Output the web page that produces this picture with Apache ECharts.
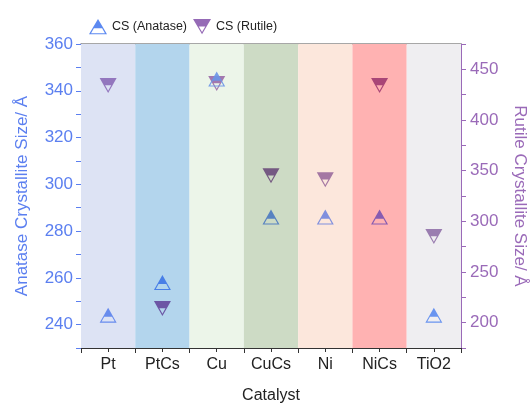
<!DOCTYPE html>
<html>
<head>
<meta charset="utf-8">
<script src="https://cdn.jsdelivr.net/npm/echarts@6/dist/echarts.min.js"></script>
<style>
  html, body { margin: 0; padding: 0; background: #fff; }
  #chart { width: 531px; height: 404px; }
</style>
</head>
<body>
<div id="chart"></div>
<script>
// catalysts and crystallite sizes (Å)
const categories = ['Pt', 'PtCs', 'Cu', 'CuCs', 'Ni', 'NiCs', 'TiO2'];
const anatase = [244, 258, 345, 286, 286, 286, 244];
const rutile = [434, 214, 436, 345, 341, 434, 285];
const leftTicks = [240, 260, 280, 300, 320, 340, 360];
const rightTicks = [200, 250, 300, 350, 400, 450];

// styling
const bandColors = ['#dde3f4', '#b3d5ed', '#ecf5e9', '#cddbc5', '#fce7dc', '#ffb2b2', '#efeef1'];
const anataseColors = ['#5b82ec', '#3d75e6', '#6a95e8', '#4a78c0', '#7285de', '#7a52b0', '#5a8af0'];
const rutileColors = ['#8b6ab8', '#64489c', '#9a6aa8', '#6a4a7a', '#9a6a9c', '#a03a70', '#9070a8'];
const blue = '#5b7ff0';
const purple = '#9a6ab8';
const font = '"Liberation Sans", Arial, sans-serif';

// half filled triangles: solid part + outlined part (hole by reverse winding)
const upTri = 'path://M10,0L15.3,9L4.7,9Z' +
  'M4.7,9L15.3,9L20,17L0,17Z' +
  'M5.45,10.3L2.28,15.7L17.72,15.7L14.55,10.3Z';
const downTri = 'path://M0,0L20,0L15.88,7L4.12,7Z' +
  'M4.12,7L15.88,7L10,17Z' +
  'M6.39,8.3L10,14.44L13.61,8.3Z';

const chart = echarts.init(document.getElementById('chart'));

const option = {
  animation: false,
  textStyle: { fontFamily: font },
  legend: {
    top: 14,
    left: 84,
    itemGap: 6,
    itemWidth: 18,
    itemHeight: 16,
    textStyle: { fontSize: 12.5, color: '#222', fontFamily: font },
    data: [
      { name: 'CS (Anatase)', icon: upTri, itemStyle: { color: '#4a7cf0' } },
      { name: 'CS (Rutile)', icon: downTri, itemStyle: { color: '#8a5aae' } }
    ]
  },
  grid: { left: 81, right: 70, top: 44, bottom: 56, containLabel: false, outerBoundsMode: 'none' },
  xAxis: [
    {
      type: 'category',
      data: categories,
      name: 'Catalyst',
      nameLocation: 'middle',
      nameGap: 40,
      nameTextStyle: { fontSize: 16, color: '#222' },
      axisLine: { lineStyle: { color: '#333', width: 1 } },
      axisTick: { show: true, length: 5, lineStyle: { color: '#333' } },
      axisLabel: { fontSize: 16, color: '#222', margin: 9 }
    },
    {
      type: 'category',
      data: categories,
      position: 'bottom',
      axisLine: { show: false },
      axisTick: { show: true, alignWithLabel: true, length: 4, lineStyle: { color: '#333' } },
      axisLabel: { show: false }
    },
    {
      type: 'category',
      data: categories,
      position: 'top',
      axisLine: { show: true, lineStyle: { color: '#8a8a8a', width: 1.5 } },
      axisTick: { show: false },
      axisLabel: { show: false }
    }
  ],
  yAxis: [
    {
      type: 'value',
      min: 230,
      max: 360,
      interval: 10,
      name: 'Anatase Crystallite Size/ Å',
      nameLocation: 'middle',
      nameGap: 50,
      nameTextStyle: { fontSize: 17, color: blue },
      axisLine: { show: true, lineStyle: { color: blue, width: 1 } },
      axisTick: { show: true, length: 5, lineStyle: { color: blue } },
      axisLabel: {
        fontSize: 17,
        color: blue,
        margin: 8,
        formatter: v => (leftTicks.includes(v) ? String(v) : '')
      },
      splitLine: { show: false }
    },
    {
      type: 'value',
      min: 175,
      max: 475,
      interval: 25,
      position: 'right',
      name: 'Rutile Crystallite Size/ Å',
      nameLocation: 'middle',
      nameRotate: -90,
      nameGap: 50,
      nameTextStyle: { fontSize: 17, color: purple },
      axisLine: { show: true, lineStyle: { color: purple, width: 1 } },
      axisTick: { show: true, length: 5, lineStyle: { color: purple } },
      axisLabel: {
        fontSize: 17,
        color: purple,
        margin: 9,
        formatter: v => (rightTicks.includes(v) ? String(v) : '')
      },
      splitLine: { show: false }
    }
  ],
  series: [
    {
      name: 'bands',
      type: 'bar',
      xAxisIndex: 0,
      yAxisIndex: 0,
      barWidth: '100%',
      barCategoryGap: 0,
      silent: true,
      data: categories.map(() => 360),
      itemStyle: { color: p => bandColors[p.dataIndex] }
    },
    {
      name: 'CS (Anatase)',
      type: 'scatter',
      xAxisIndex: 0,
      yAxisIndex: 0,
      symbol: upTri,
      symbolSize: [17, 15],
      data: anatase,
      itemStyle: { color: p => anataseColors[p.dataIndex], opacity: 0.9 },
      z: 3
    },
    {
      name: 'CS (Rutile)',
      type: 'scatter',
      xAxisIndex: 0,
      yAxisIndex: 1,
      symbol: downTri,
      symbolSize: [17, 15],
      data: rutile,
      itemStyle: { color: p => rutileColors[p.dataIndex], opacity: 0.9 },
      z: 2
    }
  ]
};

chart.setOption(option);
window.addEventListener('resize', chart.resize);
</script>
</body>
</html>
